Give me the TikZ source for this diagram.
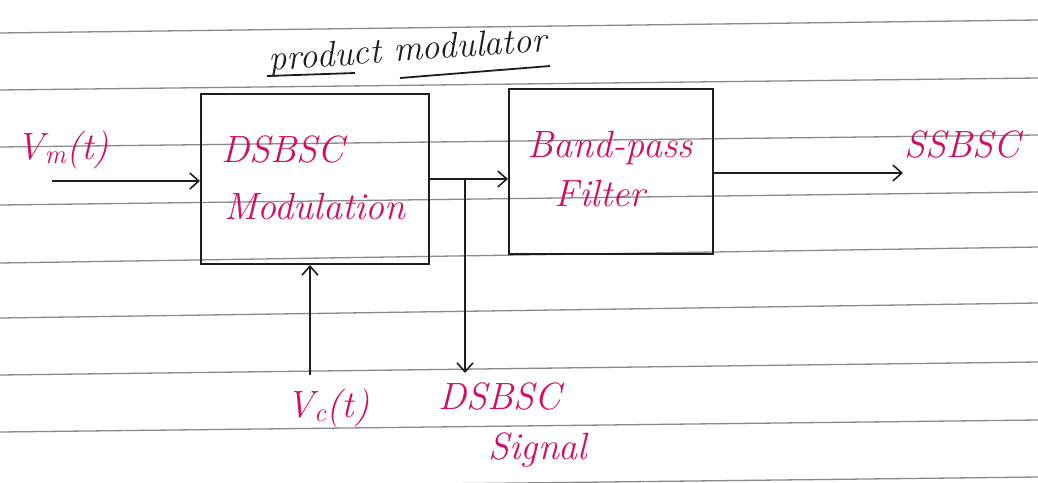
\documentclass[tikz,border=0pt]{standalone}
\usetikzlibrary{arrows.meta}
\definecolor{ink}{HTML}{D01068}
\definecolor{pen}{HTML}{1E1E1E}
\definecolor{rule}{HTML}{8A8A8A}
\tikzset{
  block/.style={draw=pen, line width=2pt, minimum width=#1, inner sep=0pt, anchor=north west},
  wire/.style={draw=pen, line width=1.8pt, -{Straight Barb[length=9pt,width=16pt,line width=1.6pt]}},
  plain/.style={draw=pen, line width=1.8pt},
  pink/.style={text=ink, font=\fontsize{38}{42}\selectfont\itshape, inner sep=0pt},
  blk/.style={text=pen, font=\fontsize{36}{40}\selectfont\itshape, inner sep=0pt},
  ruled/.style={draw=rule, line width=1.3pt}
}
\begin{document}
\begin{tikzpicture}[x=1pt,y=-1pt]
\useasboundingbox (0,0) rectangle (1038,482);
\fill[white] (0,0) rectangle (1038,482);
% ruled paper lines
\foreach \a/\b in {33/20, 90/78, 147/135, 205/192, 263/247, 318/303, 375/362, 432/420, 489/477}
  \draw[ruled] (0,\a) -- (1038,\b);
% blocks
\node[block=228pt, minimum height=170pt] (mod) at (200,93) {};
\node[block=204pt, minimum height=165pt] (bpf) at (508,88) {};
% texts
\node[pink] (dsb) at (283,150) {DSBSC};
\node[pink] (modt) at (315,206) {Modulation};
\node[pink] (band) at (610,148) {Band-pass};
\node[pink] (filt) at (600,194) {Filter};
\node[pink] (vm) at (63,150) {V\textsubscript{m}(t)};
\node[pink] (ssb) at (962,145) {SSBSC};
\node[pink] (vc) at (328,408) {V\textsubscript{c}(t)};
\node[pink] (dsig) at (500,397) {DSBSC};
\node[pink] (sig) at (538,450) {Signal};
\node[blk, rotate=4] (prod) at (408,52) {product modulator};
\draw[plain] (267,76) -- (355,73);
\draw[plain] (400,78) -- (550,66);
% connectors
\coordinate (in) at (52,181);
\coordinate (out) at (903,173);
\coordinate (cin) at (310,375);
\coordinate (tap) at (465,179);
\coordinate (tapend) at (465,373);
\draw[wire] (in) -- (in -| mod.west);
\draw[wire] (mod.east |- 0,179) -- (bpf.west |- 0,179);
\draw[wire] (tap) -- (tapend);
\draw[wire] (cin) -- (cin |- mod.south);
\draw[wire] (bpf.east |- out) -- (out);
\end{tikzpicture}
\end{document}
